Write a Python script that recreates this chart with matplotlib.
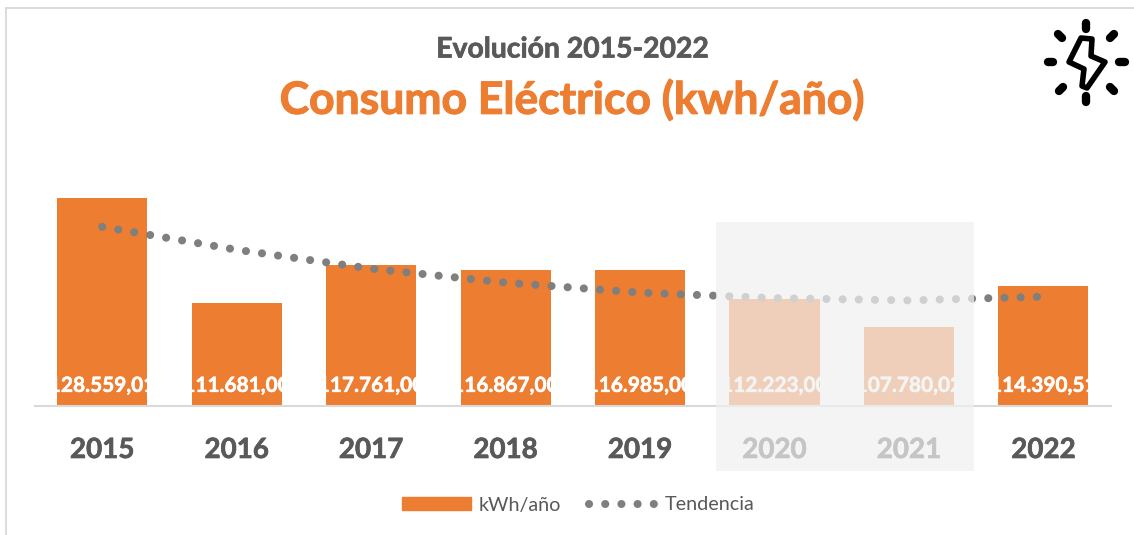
import matplotlib
matplotlib.use("Agg")
import matplotlib.pyplot as plt
import matplotlib.patheffects as pe
from matplotlib.lines import Line2D
from matplotlib.patches import Patch, Rectangle, Polygon

W, H = 1134, 535

years = ["2015", "2016", "2017", "2018", "2019", "2020", "2021", "2022"]
consumo = [128559.01, 111681.00, 117761.00, 116867.00, 116985.00, 112223.00, 107780.02, 114390.51]
tendencia = [123900, 120200, 117150, 114900, 113290, 112400, 112030, 112640]
labels = ["128.559,01", "111.681,00", "117.761,00", "116.867,00", "116.985,00", "112.223,00", "107.780,02", "114.390,51"]

ORANGE = "#ED7D31"
DARK = "#595959"
GREY = "#7F7F7F"
LINE = "#D9D9D9"

plt.rcParams['font.family'] = ['Lato', 'DejaVu Sans']

# x, y in image pixels (y from the top) to figure fractions
def fx(x): return x / W
def fy(y): return 1 - y / H

# Lato bold is a little lighter than the reference face
def heavier(txt, color, w=0.5):
    txt.set_path_effects([pe.withStroke(linewidth=w, foreground=color)])

fig = plt.figure(figsize=(W / 100, H / 100), dpi=100)
ax = fig.add_axes([fx(35), fy(406), (1110.6 - 35) / W, (406 - 158) / H])

xs = range(len(years))
ax.bar(xs, consumo, width=0.67, color=ORANGE, zorder=2)
DOTS = (0, (0.01, 2.0))
ax.plot(xs, tendencia, color=GREY, linewidth=5.8, linestyle=DOTS, dash_capstyle='round', zorder=3)

for i in xs:
    t = ax.annotate(labels[i], (i, 95000), xytext=(0, 14.5), textcoords='offset points',
                    ha='center', va='center', color='white', fontsize=15, fontweight='bold', zorder=4)
    heavier(t, 'white', 0.4)

ax.set_xlim(-0.5, 7.5)
ax.set_ylim(95000, 135000)
ax.set_xticks(list(xs))
ax.set_xticklabels(years, fontsize=20, fontweight='bold', color=DARK)
ax.tick_params(axis='x', length=0, pad=22.3)
for t in ax.get_xticklabels():
    heavier(t, DARK)
ax.set_yticks([])
for s in ['top', 'left', 'right']:
    ax.spines[s].set_visible(False)
ax.spines['bottom'].set_color(LINE)
ax.spines['bottom'].set_linewidth(1.5)
ax.patch.set_alpha(0)

# titles
sub = fig.text(fx(573), fy(49.5), "Evolución 2015-2022", ha='center', va='center', fontsize=20.4, fontweight='bold', color=DARK)
heavier(sub, DARK)
tit = fig.text(fx(572.5), fy(100), "Consumo Eléctrico (kwh/año)", ha='center', va='center', fontsize=32, fontweight='bold', color=ORANGE)
heavier(tit, ORANGE, 0.8)

# legend
handles = [Patch(color=ORANGE), Line2D([0], [0], color=GREY, linewidth=5.8, linestyle=DOTS, dash_capstyle='round')]
leg = fig.legend(handles, ["kWh/año", "Tendencia"], loc='center', bbox_to_anchor=(fx(578.5), fy(505)), ncol=2,
                 frameon=False, fontsize=14.2, handlelength=3.5, handleheight=0.6, handletextpad=0.35,
                 columnspacing=1.45, labelcolor=DARK)

# outer frame, only top and left are visible in the crop
fig.add_artist(Line2D([fx(6), fx(6)], [fy(8), 0], color=LINE, linewidth=1.3))
fig.add_artist(Line2D([fx(6), 1], [fy(8), fy(8)], color=LINE, linewidth=1.3))

# grey veil over 2020 and 2021, on top of everything it covers
fig.add_artist(Rectangle((fx(716), fy(470.5)), 258 / W, 248.5 / H, transform=fig.transFigure,
                         facecolor="#F0F0F0", alpha=0.72, edgecolor='none', zorder=10))

# bolt icon, drawn in pixels of the crop
icon = fig.add_axes([fx(1030), fy(110), 104 / W, 110 / H])
icon.set_xlim(1030, 1134)
icon.set_ylim(110, 0)
icon.axis('off')
bolt = [(1081, 38), (1069, 62), (1084, 69), (1082, 86), (1087, 88), (1105, 62), (1091, 56), (1092, 39)]
icon.add_patch(Polygon(bolt, closed=True, fill=False, edgecolor='black', linewidth=4, joinstyle='round'))
rays = [((1086, 23), (1086, 29)), ((1086, 96), (1086, 102)), ((1048, 62), (1053, 62)), ((1119, 62), (1125, 62)),
        ((1058, 34), (1062, 38)), ((1110, 38), (1114, 34)), ((1059, 91), (1063, 87)), ((1110, 87), (1114, 91))]
for a, b in rays:
    icon.plot([a[0], b[0]], [a[1], b[1]], color='black', linewidth=6, solid_capstyle='round')

fig.savefig("out.png", dpi=100)
